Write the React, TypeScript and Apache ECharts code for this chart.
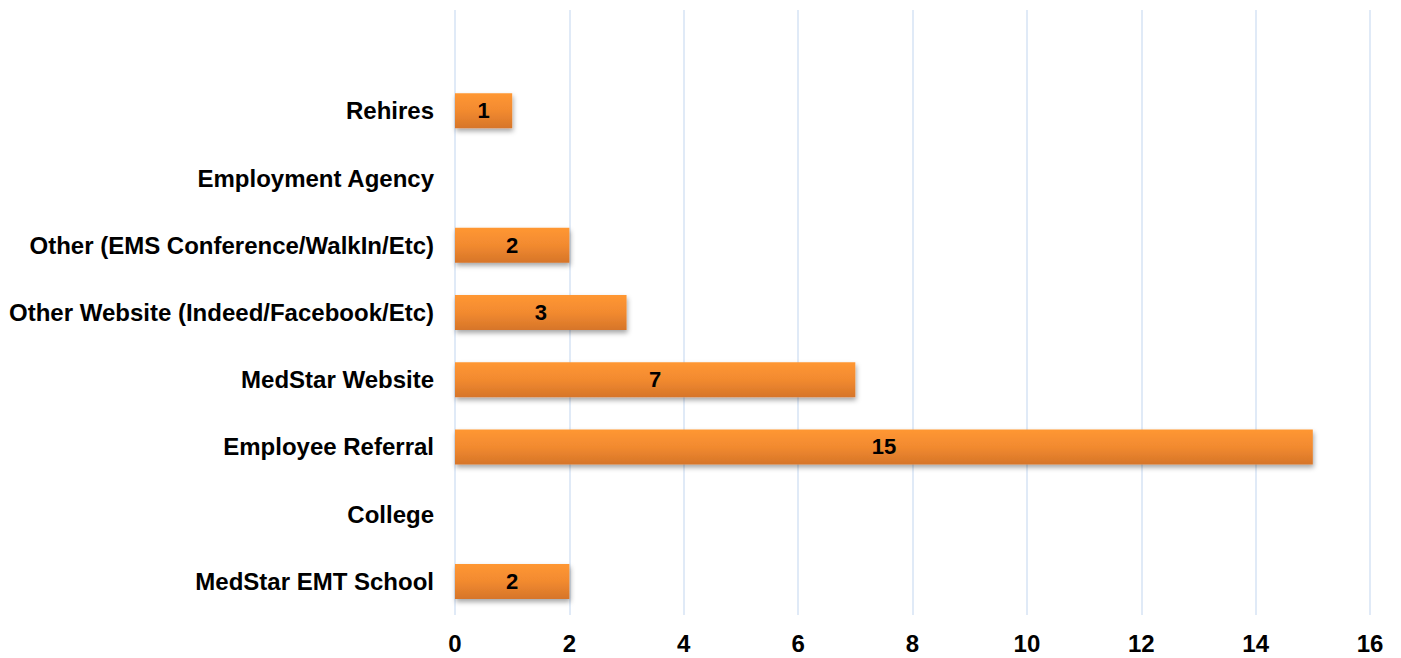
import React, { useEffect, useRef } from "react";
import * as echarts from "echarts";

const categories = [
  "MedStar EMT School",
  "College",
  "Employee Referral",
  "MedStar Website",
  "Other Website (Indeed/Facebook/Etc)",
  "Other (EMS Conference/WalkIn/Etc)",
  "Employment Agency",
  "Rehires",
];
const values: (number | null)[] = [2, null, 15, 7, 3, 2, null, 1];
const xTicks = [0, 2, 4, 6, 8, 10, 12, 14, 16];

export default function App() {
  const ref = useRef<HTMLDivElement>(null);
  useEffect(() => {
    if (!ref.current) return;
    const chart = echarts.init(ref.current, null, { renderer: "svg" });
    const font = "'Liberation Sans', Arial, sans-serif";
    chart.setOption({
      animation: false,
      grid: { left: 455, right: 31, top: 10, bottom: 43, containLabel: false },
      xAxis: {
        type: "value",
        min: xTicks[0],
        max: xTicks[xTicks.length - 1],
        interval: 2,
        axisLine: { show: false },
        axisTick: { show: false },
        axisLabel: {
          color: "#000",
          fontFamily: font,
          fontWeight: "bold",
          fontSize: 24,
          margin: 16,
        },
        splitLine: { show: true, lineStyle: { color: "#D6E3F4", width: 1.5 } },
      },
      yAxis: {
        type: "category",
        data: categories,
        max: categories.length,
        axisLine: { show: false },
        axisTick: { show: false },
        axisLabel: {
          color: "#000",
          fontFamily: font,
          fontWeight: "bold",
          fontSize: 24,
          margin: 21,
        },
        splitLine: { show: false },
      },
      series: [
        {
          type: "bar",
          data: values.map((v) => (v === null ? "-" : v)),
          barWidth: 35,
          itemStyle: {
            color: new echarts.graphic.LinearGradient(0, 0, 0, 1, [
              { offset: 0, color: "#FF9733" },
              { offset: 0.5, color: "#F28A2F" },
              { offset: 1, color: "#D6752A" },
            ]),
            shadowColor: "rgba(0,0,0,0.35)",
            shadowBlur: 5,
            shadowOffsetX: 1,
            shadowOffsetY: 3,
          },
          label: {
            show: true,
            position: "inside",
            color: "#000",
            fontFamily: font,
            fontWeight: "bold",
            fontSize: 22,
          },
        },
      ],
    });
    return () => chart.dispose();
  }, []);
  return (
    <div
      ref={ref}
      style={{ position: "fixed", left: 0, top: 0, width: 1401, height: 658, background: "#fff" }}
    />
  );
}
